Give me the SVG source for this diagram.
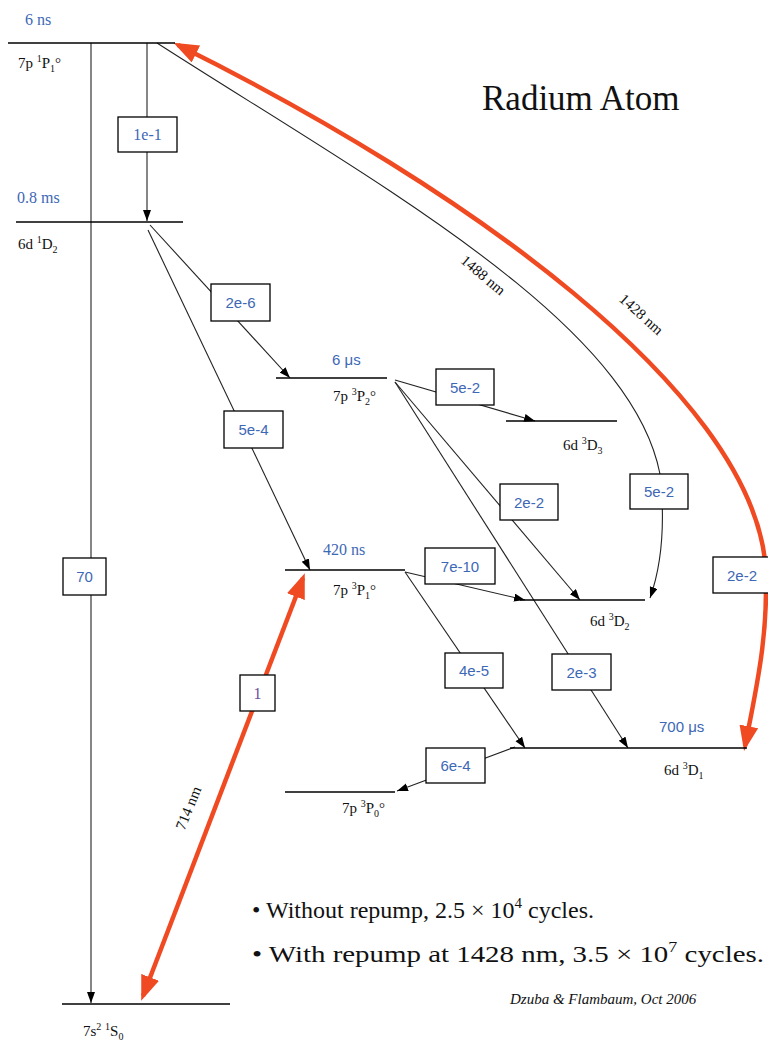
<svg xmlns="http://www.w3.org/2000/svg" width="768" height="1044" viewBox="0 0 768 1044">
<style>
.lvl{stroke:#000;stroke-width:1.4;fill:none}
.ln{stroke:#222;stroke-width:1.1;fill:none}
.red{stroke:#f04a23;stroke-width:4.5;fill:none}
.box{fill:#fff;stroke:#000;stroke-width:1.3}
.bl{font-family:"Liberation Sans",Arial,sans-serif;font-size:15px;fill:#3d68b5;text-anchor:middle}
.bls{font-family:"Liberation Serif","Times New Roman",serif;font-size:16px;fill:#3d68b5}
.lab{font-family:"Liberation Serif","Times New Roman",serif;font-size:15px;fill:#111}
.sm{font-size:10px}
.big{font-family:"Liberation Serif","Times New Roman",serif;fill:#111}
</style>
<defs>
<marker id="ah" markerUnits="userSpaceOnUse" markerWidth="12" markerHeight="9" refX="11" refY="4" orient="auto">
<path d="M0,0 L11,4 L0,8 z" fill="#000"/>
</marker>
<marker id="rh" markerUnits="userSpaceOnUse" markerWidth="26" markerHeight="20" refX="20" refY="9.5" orient="auto-start-reverse">
<path d="M0,0 L25,9.5 L0,19 z" fill="#f04a23"/>
</marker>
</defs>
<rect width="768" height="1044" fill="#fff"/>

<g id="connectors">
<line class="ln" x1="91" y1="43" x2="91" y2="1003" marker-end="url(#ah)"/>
<line class="ln" x1="147" y1="43" x2="147" y2="221" marker-end="url(#ah)"/>
<line class="ln" x1="150" y1="225" x2="290" y2="378" marker-end="url(#ah)"/>
<line class="ln" x1="148" y1="230" x2="310" y2="570" marker-end="url(#ah)"/>
<line class="ln" x1="395" y1="380" x2="535" y2="421" marker-end="url(#ah)"/>
<line class="ln" x1="395" y1="382" x2="580" y2="600" marker-end="url(#ah)"/>
<line class="ln" x1="395" y1="382" x2="628" y2="748" marker-end="url(#ah)"/>
<line class="ln" x1="405" y1="572" x2="525" y2="600" marker-end="url(#ah)"/>
<line class="ln" x1="405" y1="572" x2="525" y2="748" marker-end="url(#ah)"/>
<line class="ln" x1="515" y1="747" x2="397" y2="791" marker-end="url(#ah)"/>
<path class="ln" d="M157,43 C370,180 630,320 660,474 C666,530 660,570 650,598" marker-end="url(#ah)"/>
<path class="red" d="M178,45 C470,190 745,390 765,560 C770,630 756,690 745,746" marker-start="url(#rh)" marker-end="url(#rh)"/>
<line class="red" x1="143" y1="996" x2="303" y2="578" stroke-width="5" marker-start="url(#rh)" marker-end="url(#rh)"/>
</g>

<g id="level-7p1P1">
<line class="lvl" x1="8" y1="43" x2="175" y2="43"/>
<text class="bls" x="25" y="25">6 ns</text>
<text class="lab" x="18" y="68" font-size="14">7p <tspan class="sm" dy="-6">1</tspan><tspan dy="6">P</tspan><tspan class="sm" dy="4">1</tspan><tspan dy="-4">°</tspan></text>
</g>
<g id="level-6d1D2">
<line class="lvl" x1="16" y1="222" x2="183" y2="222"/>
<text class="bls" x="17" y="203">0.8 ms</text>
<text class="lab" x="18" y="249">6d <tspan class="sm" dy="-6">1</tspan><tspan dy="6">D</tspan><tspan class="sm" dy="4">2</tspan></text>
</g>
<g id="level-7p3P2">
<line class="lvl" x1="276" y1="378" x2="387" y2="378"/>
<text class="bl" x="332" y="365" style="text-anchor:start">6 μs</text>
<text class="lab" x="333" y="401">7p <tspan class="sm" dy="-6">3</tspan><tspan dy="6">P</tspan><tspan class="sm" dy="4">2</tspan><tspan dy="-4">°</tspan></text>
</g>
<g id="level-6d3D3">
<line class="lvl" x1="506" y1="421" x2="617" y2="421"/>
<text class="lab" x="563" y="450">6d <tspan class="sm" dy="-6">3</tspan><tspan dy="6">D</tspan><tspan class="sm" dy="4">3</tspan></text>
</g>
<g id="level-7p3P1">
<line class="lvl" x1="285" y1="570" x2="405" y2="570"/>
<text class="bls" x="323" y="555">420 ns</text>
<text class="lab" x="333" y="595">7p <tspan class="sm" dy="-6">3</tspan><tspan dy="6">P</tspan><tspan class="sm" dy="4">1</tspan><tspan dy="-4">°</tspan></text>
</g>
<g id="level-6d3D2">
<line class="lvl" x1="520" y1="600" x2="645" y2="600"/>
<text class="lab" x="590" y="626">6d <tspan class="sm" dy="-6">3</tspan><tspan dy="6">D</tspan><tspan class="sm" dy="4">2</tspan></text>
</g>
<g id="level-6d3D1">
<line class="lvl" x1="510" y1="748" x2="747" y2="748"/>
<text class="bl" x="659" y="732" style="text-anchor:start">700 μs</text>
<text class="lab" x="664" y="775">6d <tspan class="sm" dy="-6">3</tspan><tspan dy="6">D</tspan><tspan class="sm" dy="4">1</tspan></text>
</g>
<g id="level-7p3P0">
<line class="lvl" x1="285" y1="792" x2="395" y2="792"/>
<text class="lab" x="342" y="813">7p <tspan class="sm" dy="-6">3</tspan><tspan dy="6">P</tspan><tspan class="sm" dy="4">0</tspan><tspan dy="-4">°</tspan></text>
</g>
<g id="level-7s1S0">
<line class="lvl" x1="62" y1="1004" x2="230" y2="1004"/>
<text class="lab" x="83" y="1036">7s<tspan class="sm" dy="-6">2</tspan><tspan dy="6"> </tspan><tspan class="sm" dy="-6">1</tspan><tspan dy="6">S</tspan><tspan class="sm" dy="4">0</tspan></text>
</g>

<g id="box-1e-1"><rect class="box" x="118" y="117" width="59" height="35"/><text class="bls" x="147.5" y="140" text-anchor="middle">1e-1</text></g>
<g id="box-70"><rect class="box" x="63" y="558" width="43" height="37"/><text class="bl" x="84.5" y="582">70</text></g>
<g id="box-2e-6"><rect class="box" x="211" y="284" width="59" height="37"/><text class="bl" x="240.5" y="308">2e-6</text></g>
<g id="box-5e-4"><rect class="box" x="224" y="411" width="59" height="37"/><text class="bl" x="253.5" y="435">5e-4</text></g>
<g id="box-5e-2a"><rect class="box" x="436" y="369" width="58" height="36"/><text class="bl" x="465" y="393">5e-2</text></g>
<g id="box-2e-2a"><rect class="box" x="500" y="484" width="58" height="36"/><text class="bl" x="529" y="508">2e-2</text></g>
<g id="box-5e-2b"><rect class="box" x="630" y="474" width="58" height="35"/><text class="bl" x="659" y="497">5e-2</text></g>
<g id="box-2e-2b"><rect class="box" x="713" y="557" width="62" height="36"/><text class="bl" x="742" y="581">2e-2</text></g>
<g id="box-7e-10"><rect class="box" x="425" y="548" width="70" height="36"/><text class="bl" x="460" y="572">7e-10</text></g>
<g id="box-4e-5"><rect class="box" x="445" y="653" width="58" height="35"/><text class="bl" x="474" y="676">4e-5</text></g>
<g id="box-2e-3"><rect class="box" x="552" y="654" width="59" height="36"/><text class="bl" x="581.5" y="678">2e-3</text></g>
<g id="box-6e-4"><rect class="box" x="426" y="748" width="59" height="35"/><text class="bl" x="455.5" y="771">6e-4</text></g>
<g id="box-1"><rect class="box" x="240" y="675" width="35" height="36"/><text class="bls" x="257.5" y="699" text-anchor="middle" style="fill:#6b4f9a">1</text></g>

<g id="labels">
<text class="lab" font-size="14" transform="translate(480,279) rotate(40)" text-anchor="middle">1488 nm</text>
<text class="lab" font-size="14" transform="translate(638,318) rotate(42)" text-anchor="middle">1428 nm</text>
<text class="lab" font-size="15" transform="translate(193,810) rotate(-68)" text-anchor="middle">714 nm</text>
<text class="big" x="482" y="110" font-size="35">Radium Atom</text>
<text class="big" x="252" y="918" font-size="24">• Without repump, 2.5 × 10<tspan font-size="15" dy="-10">4</tspan><tspan dy="10"> cycles.</tspan></text>
<text class="big" x="252" y="962" font-size="24" textLength="512" lengthAdjust="spacingAndGlyphs">• With repump at 1428 nm, 3.5 × 10<tspan font-size="15" dy="-10">7</tspan><tspan dy="10"> cycles.</tspan></text>
<text class="big" x="510" y="1004" font-size="15" font-style="italic">Dzuba &amp; Flambaum, Oct 2006</text>
</g>
</svg>
